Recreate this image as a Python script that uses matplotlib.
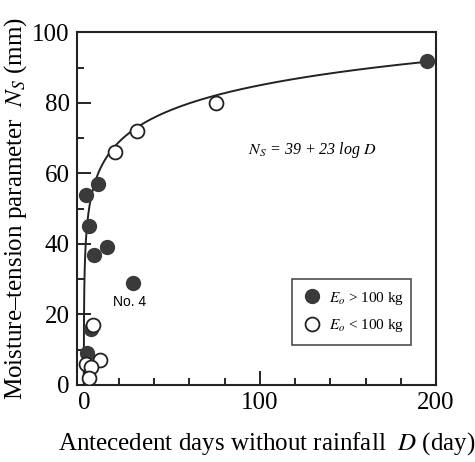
import numpy as np
import matplotlib
matplotlib.use("Agg")
import matplotlib.pyplot as plt
from matplotlib.lines import Line2D

plt.rcParams['font.family'] = ['Liberation Serif', 'DejaVu Serif']
plt.rcParams['mathtext.fontset'] = 'stix'

# E_o > 100 kg (filled)
d_hi = [195, 1, 8, 3, 6, 13, 28, 4, 2]
ns_hi = [92, 54, 57, 45, 37, 39, 29, 16, 9]
# E_o < 100 kg (open)
d_lo = [75, 30, 18, 5, 9, 1, 4, 3]
ns_lo = [80, 72, 66, 17, 7, 6, 5, 2]

# fitted curve Ns = 39 + 23 log D
a, b = 39, 23
dfit = np.logspace(np.log10(10**(-a / b)), np.log10(200), 400)
nsfit = a + b * np.log10(dfit)

fig = plt.figure(figsize=(4.75, 4.62), dpi=100)
ax = fig.add_axes([0.1615, 0.1667, 0.7565, 0.7633])

ax.plot(dfit, nsfit, color='#222222', lw=1.4, zorder=2)
ax.plot(d_hi, ns_hi, 'o', ms=10, mfc='#3a3a3a', mec='#3a3a3a', ls='none', zorder=3)
ax.plot(d_lo, ns_lo, 'o', ms=10, mfc='white', mec='#222222', mew=1.3, ls='none', zorder=4)

ax.set_xlim(-4, 200)
ax.set_ylim(0, 100)
ax.set_xticks([0, 100, 200])
ax.set_xticks(np.arange(0, 201, 20), minor=True)
ax.set_yticks(np.arange(0, 101, 20))
ax.set_yticks(np.arange(0, 101, 10), minor=True)
ax.tick_params(direction='in', which='major', length=10, width=1.2, labelsize=18, pad=5)
ax.tick_params(direction='in', which='minor', length=5, width=1.2)
for s in ax.spines.values():
    s.set_linewidth(1.5)
    s.set_color('#222222')

ax.set_xlabel('Antecedent days without rainfall  $D$ (day)', fontsize=18, labelpad=12)
ax.xaxis.label.set_x(0.53)
ax.set_ylabel('Moisture\u2013tension parameter  $N_S$ (mm)', fontsize=18, labelpad=2)

ax.text(130, 66.5, '$N_S$ = 39 + 23 log $D$', fontsize=11.5, style='italic',
        ha='center', va='center')
ax.text(26, 23.5, 'No. 4', fontsize=10, family='Liberation Sans', ha='center', va='center')

handles = [
    Line2D([], [], marker='o', ls='none', ms=10, mfc='#3a3a3a', mec='#3a3a3a'),
    Line2D([], [], marker='o', ls='none', ms=10, mfc='white', mec='#222222', mew=1.3),
]
leg = ax.legend(handles, ['$E_o$ > 100 kg', '$E_o$ < 100 kg'], loc='lower left',
                bbox_to_anchor=(0.6, 0.113, 0.33, 0.19), mode='expand', borderaxespad=0,
                fontsize=11, frameon=True, fancybox=False, handletextpad=0.5,
                borderpad=0.7, labelspacing=0.7, handlelength=1.2)
leg.get_frame().set_edgecolor('#222222')
leg.get_frame().set_linewidth(1.2)

fig.savefig('out.png', dpi=100)
